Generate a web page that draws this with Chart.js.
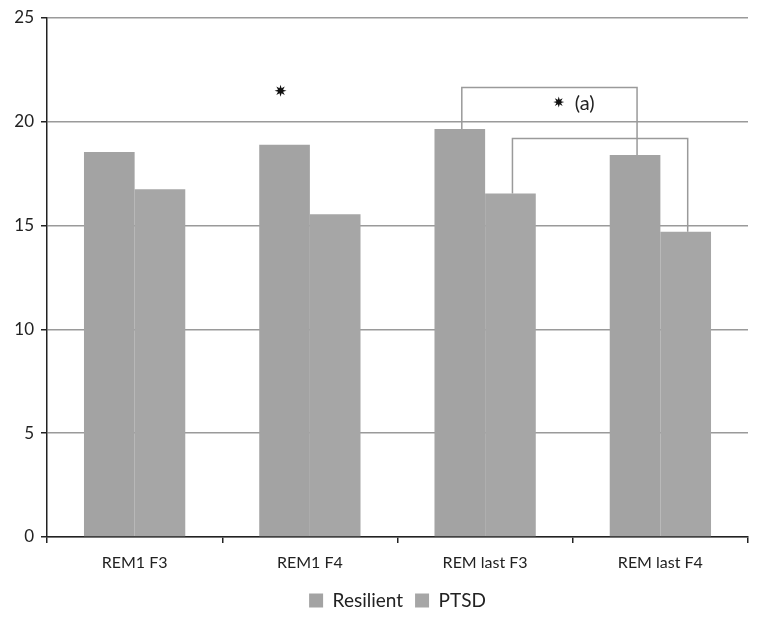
<!DOCTYPE html>
<html>
<head>
<meta charset="utf-8">
<script src="https://cdn.jsdelivr.net/npm/chart.js@4.4.1/dist/chart.umd.min.js"></script>
<style>
  html, body { margin: 0; padding: 0; background: #fff; }
  #wrap { width: 764px; height: 622px; }
</style>
</head>
<body>
<div id="wrap"><canvas id="chart" width="764" height="622"></canvas></div>
<script>
// Data
const categories = ['REM1 F3', 'REM1 F4', 'REM last F3', 'REM last F4'];
const resilient = [18.55, 18.9, 19.65, 18.4];
const ptsd = [16.75, 15.55, 16.55, 14.7];
const seriesNames = ['Resilient', 'PTSD'];
const yMax = 25;
const yStep = 5;

// Significance marks: [category index, dataset index, value]
const stars = [[1, 0, 21.5]];
// Star with label centered between two categories: [category position, value, label]
const labeledStars = [[2.5, 20.95, '(a)']];
// Brackets: [dataset, from category, to category, level]
const brackets = [[0, 2, 3, 21.65], [1, 2, 3, 19.2]];

const FONT = 'Lato, "Open Sans", sans-serif';

function drawStar(ctx, x, y, r) {
    ctx.save();
    ctx.fillStyle = '#111';
    ctx.beginPath();
    for (let i = 0; i < 16; i++) {
        const a = Math.PI * i / 8;
        const rr = i % 2 === 0 ? r : r * 0.45;
        const px = x + rr * Math.sin(a), py = y - rr * Math.cos(a);
        if (i === 0) ctx.moveTo(px, py); else ctx.lineTo(px, py);
    }
    ctx.closePath();
    ctx.fill();
    ctx.restore();
}

const annotations = {
    id: 'annotations',
    afterDatasetsDraw(chart) {
        const ctx = chart.ctx;
        const xs = chart.scales.x, ys = chart.scales.y;

        ctx.save();
        ctx.strokeStyle = '#9a9a9a';
        ctx.lineWidth = 1.5;
        brackets.forEach(([ds, c1, c2, level]) => {
            const bars = chart.getDatasetMeta(ds).data;
            const yTop = ys.getPixelForValue(level);
            ctx.beginPath();
            ctx.moveTo(bars[c1].x + 2, bars[c1].y);
            ctx.lineTo(bars[c1].x + 2, yTop);
            ctx.lineTo(bars[c2].x + 2, yTop);
            ctx.lineTo(bars[c2].x + 2, bars[c2].y);
            ctx.stroke();
        });
        ctx.restore();

        stars.forEach(([cat, ds, val]) => {
            const bar = chart.getDatasetMeta(ds).data[cat];
            drawStar(ctx, bar.x - 4, ys.getPixelForValue(val), 6);
        });

        labeledStars.forEach(([pos, val, label]) => {
            const cx = xs.getPixelForValue(pos);
            const y = ys.getPixelForValue(val);
            drawStar(ctx, cx - 14, y, 5.5);
            ctx.save();
            ctx.fillStyle = '#222';
            ctx.font = '20px ' + FONT;
            ctx.textBaseline = 'middle';
            ctx.textAlign = 'left';
            ctx.fillText(label, cx + 2, y + 1);
            ctx.restore();
        });
    }
};

new Chart(document.getElementById('chart'), {
    type: 'bar',
    data: {
        labels: categories,
        datasets: [
            { label: seriesNames[0], data: resilient, backgroundColor: '#a3a3a3' },
            { label: seriesNames[1], data: ptsd, backgroundColor: '#a6a6a6' }
        ]
    },
    options: {
        responsive: false,
        animation: false,
        devicePixelRatio: 1,
        layout: { padding: { top: 18, right: 16, left: 0, bottom: 2 } },
        datasets: {
            bar: { categoryPercentage: 0.578, barPercentage: 1.0 }
        },
        plugins: {
            legend: {
                position: 'bottom',
                fullSize: false,
                labels: {
                    boxWidth: 14,
                    boxHeight: 14,
                    padding: 12,
                    color: '#222',
                    font: { family: FONT, size: 19 }
                }
            },
            tooltip: { enabled: false }
        },
        scales: {
            x: {
                grid: {
                    offset: true,
                    drawOnChartArea: false,
                    drawTicks: true,
                    tickLength: 6,
                    color: '#222',
                    lineWidth: 1.5
                },
                border: { color: '#222', width: 1.5 },
                ticks: {
                    color: '#222',
                    padding: 10,
                    font: { family: FONT, size: 16 }
                },
                afterFit(scale) { scale.height = 42; }
            },
            y: {
                min: 0,
                max: yMax,
                ticks: {
                    stepSize: yStep,
                    color: '#222',
                    padding: 7,
                    font: { family: FONT, size: 17 }
                },
                grid: {
                    color: '#9a9a9a',
                    lineWidth: 1.5,
                    tickColor: '#222',
                    tickLength: 6
                },
                border: { color: '#222', width: 1.5 },
                afterFit(scale) { scale.width = 47; }
            }
        }
    },
    plugins: [annotations]
});
</script>
</body>
</html>
